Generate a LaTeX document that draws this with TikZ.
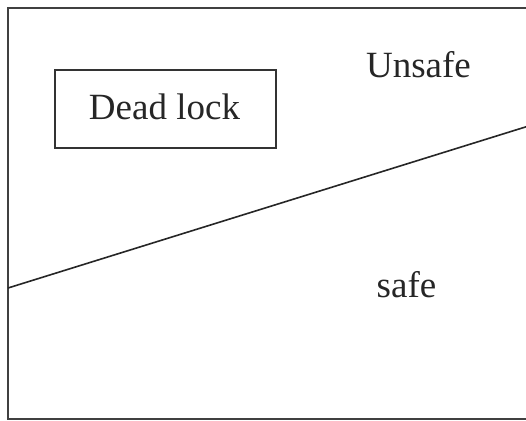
\documentclass[tikz,border=0pt]{standalone}
\usepackage{fontspec}
\setmainfont{Liberation Serif}
\begin{document}
\begin{tikzpicture}[x=1pt,y=-1pt,
  lbl/.style={font=\fontsize{37}{41}\selectfont, text=black!85, inner sep=0pt, anchor=base},
  boxst/.style={draw=black!80, line width=1.5pt, minimum width=221pt, minimum height=78pt, inner sep=0pt}]
\useasboundingbox (0,0) rectangle (526,420);
\clip (0,0) rectangle (526,420);
\draw[draw=black!75, line width=2pt] (532,8) -- (8,8) -- (8,419) -- (532,419);
\node[boxst] (dl) at (165.5,109) {};
\node[lbl] (dltext) at (164.5,119) {Dead lock};
\node[lbl] (unsafe) at (418.5,77) {Unsafe};
\node[lbl] (safe) at (406.5,297) {safe};
\coordinate (la) at (8,288);
\coordinate (lb) at (527,126.5);
\draw[black!85, line width=1.6pt] (la) -- (lb);
\end{tikzpicture}
\end{document}
